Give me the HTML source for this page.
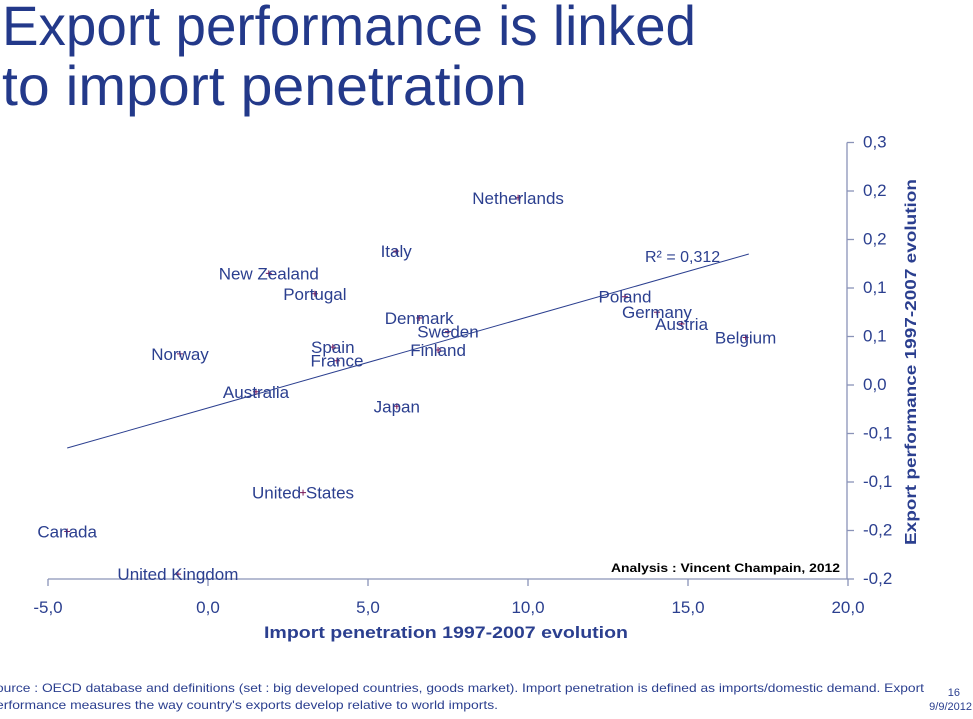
<!DOCTYPE html>
<html><head><meta charset="utf-8"><style>
body{margin:0;background:#fff;}
svg{display:block;font-family:"Liberation Sans",sans-serif;}
</style></head><body>
<svg id="chart" width="973" height="719" viewBox="0 0 973 719" xmlns="http://www.w3.org/2000/svg">
<text x="2" y="45" font-size="56" fill="#23398a" textLength="694" lengthAdjust="spacingAndGlyphs">Export performance is linked</text>
<text x="2" y="105" font-size="56" fill="#23398a" textLength="525" lengthAdjust="spacingAndGlyphs">to import penetration</text>
<g id="axes"></g>
<g id="marks"></g>
<text x="446" y="638" font-size="17" font-weight="bold" fill="#2b3f8f" text-anchor="middle" textLength="364" lengthAdjust="spacingAndGlyphs">Import penetration  1997-2007 evolution</text>
<text transform="translate(916,362) rotate(-90)" font-size="16" font-weight="bold" fill="#2b3f8f" text-anchor="middle" textLength="366" lengthAdjust="spacingAndGlyphs">Export performance 1997-2007 evolution</text>
<text x="645" y="262" font-size="16" fill="#2b3f8f">R² = 0,312</text>
<text x="611" y="572" font-size="12" font-weight="bold" fill="#000" textLength="229" lengthAdjust="spacingAndGlyphs">Analysis : Vincent Champain, 2012</text>
<text x="-4" y="692" font-size="12" fill="#2b3f8f" textLength="928" lengthAdjust="spacingAndGlyphs">ource : OECD database and definitions  (set : big developed countries, goods market).  Import penetration is defined as imports/domestic  demand. Export</text>
<text x="-4" y="709" font-size="12" fill="#2b3f8f" textLength="502" lengthAdjust="spacingAndGlyphs">erformance measures  the way country's exports develop relative  to world imports.</text>
<text x="960" y="696" font-size="11" fill="#2b3f8f" text-anchor="end">16</text>
<text x="972" y="710" font-size="11" fill="#2b3f8f" text-anchor="end">9/9/2012</text>
</svg>
<script>
const countries=["Netherlands","Italy","New Zealand","Portugal","Denmark","Sweden","Finland","Spain","France","Norway","Australia","Japan","United States","Canada","United Kingdom","Poland","Germany","Austria","Belgium"];
const importPen=[9.69,5.88,1.9,3.34,6.6,7.5,7.19,3.9,4.03,-0.875,1.5,5.9,2.97,-4.4,-0.94,13.03,14.03,14.8,16.8];
const exportPerf=[0.192,0.137,0.114,0.093,0.068,0.054,0.035,0.038,0.024,0.031,-0.008,-0.023,-0.112,-0.152,-0.196,0.09,0.074,0.062,0.048];
const xTicks=[-5,0,5,10,15,20];
const xTickLabels=["-5,0","0,0","5,0","10,0","15,0","20,0"];
const yTicks=[0.25,0.2,0.15,0.1,0.05,0,-0.05,-0.1,-0.15,-0.2];
const yTickLabels=["0,3","0,2","0,2","0,1","0,1","0,0","-0,1","-0,1","-0,2","-0,2"];
const trendSlope=[0.00939];
const trendIntercept=[-0.0247];
const trendRange=[-4.4,16.9];
const NS="http://www.w3.org/2000/svg";
const X=v=>208+(v)*32;
const Y=v=>384-v*970;
function mk(t,a,p){const e=document.createElementNS(NS,t);for(const k in a)e.setAttribute(k,a[k]);p.appendChild(e);return e;}
const axes=document.getElementById('axes'),marks=document.getElementById('marks');
const yMin=-0.2,yMax=0.25;
const ax=mk('line',{x1:X(-5),x2:X(20),y1:Y(yMin)+1,y2:Y(yMin)+1,stroke:'#8a93b8','stroke-width':1.3},axes);

const ay=mk('line',{x1:X(20)-1,x2:X(20)-1,y1:Y(yMax)+1,y2:Y(yMin)+1,stroke:'#8a93b8','stroke-width':1.3},axes);

xTicks.forEach((v,i)=>{
 const t=mk('line',{x1:X(v),x2:X(v),y1:Y(yMin)+1,y2:Y(yMin)+8,stroke:'#8a93b8','stroke-width':1.3},axes);
 
 const l=mk('text',{x:X(v),y:613,'font-size':17,fill:'#2b3f8f','text-anchor':'middle'},axes);l.textContent=xTickLabels[i];
 
});
yTicks.forEach((v,i)=>{
 const t=mk('line',{x1:X(20)-1,x2:X(20)+6,y1:Y(v)+1,y2:Y(v)+1,stroke:'#8a93b8','stroke-width':1.3},axes);
 
 const l=mk('text',{x:863,y:Y(v)+6,'font-size':17,fill:'#2b3f8f'},axes);l.textContent=yTickLabels[i];
 
});
const tl=mk('line',{x1:X(trendRange[0]),y1:Y(trendIntercept[0]+trendSlope[0]*trendRange[0]),x2:X(trendRange[1]),y2:Y(trendIntercept[0]+trendSlope[0]*trendRange[1]),stroke:'#2b3f8f','stroke-width':1},marks);

countries.forEach((c,i)=>{
 const px=X(importPen[i]),py=Y(exportPerf[i]);
 const p=mk('path',{d:`M${px-3} ${py}H${px+3}M${px} ${py-3}V${py+3}`,stroke:'#7a1a5a','stroke-width':1},marks);
 
 const l=mk('text',{x:px,y:py+6,'font-size':17,fill:'#2b3f8f','text-anchor':'middle'},marks);l.textContent=c;
 
});
</script>
</body></html>
